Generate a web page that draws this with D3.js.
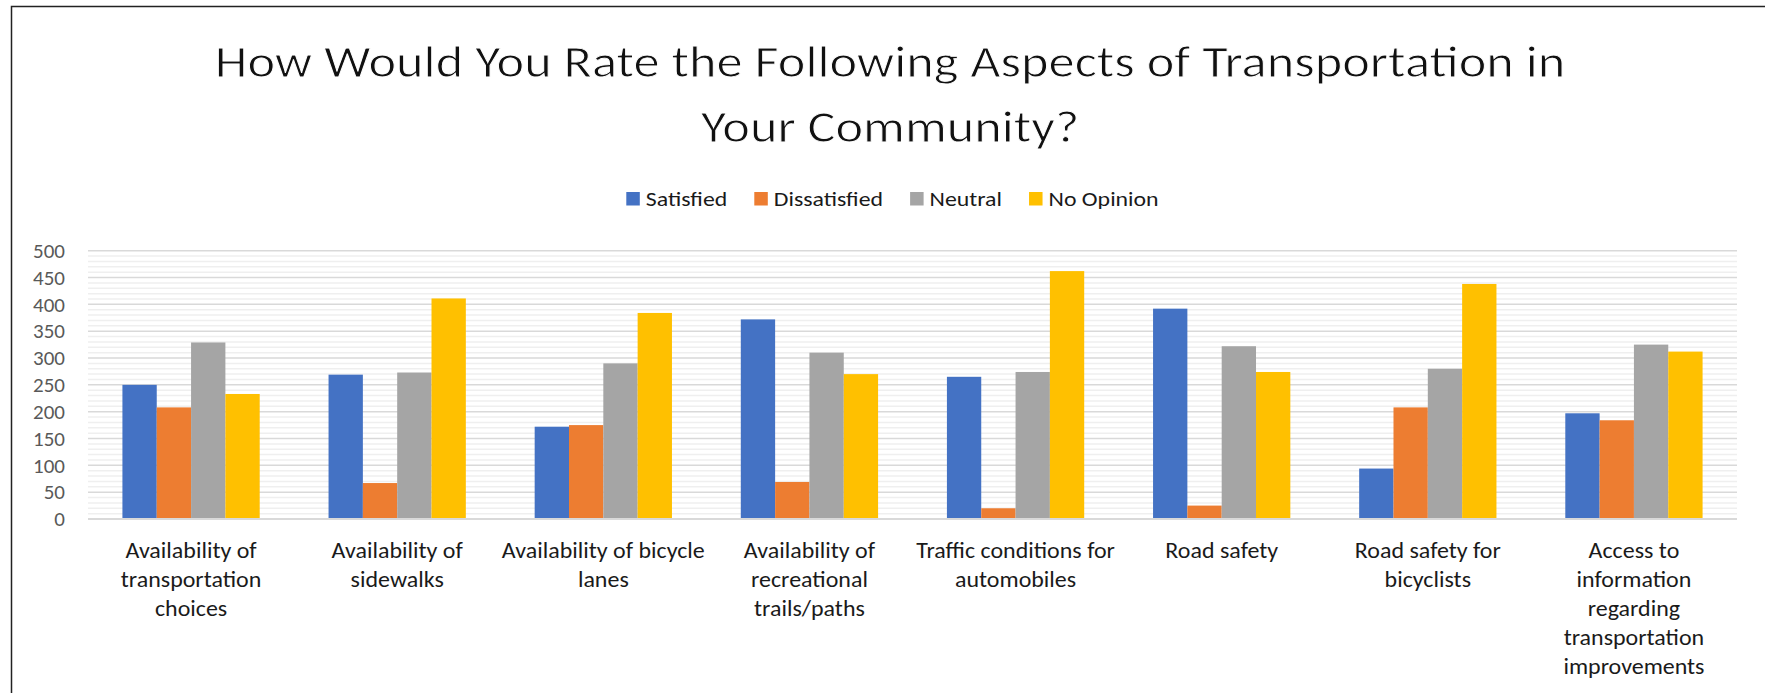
<!DOCTYPE html>
<html><head><meta charset="utf-8">
<script src="https://cdn.jsdelivr.net/npm/d3@7"></script>
<style>html,body{margin:0;padding:0;background:#fff;overflow:hidden;width:1765px;height:693px}svg{display:block}::-webkit-scrollbar{display:none}</style>
</head><body>
<svg id="chart" width="1765" height="693"></svg>
<script>
// ---------- data ----------
const categories = [
  "Availability of transportation choices",
  "Availability of sidewalks",
  "Availability of bicycle lanes",
  "Availability of recreational trails/paths",
  "Traffic conditions for automobiles",
  "Road safety",
  "Road safety for bicyclists",
  "Access to information regarding transportation improvements"
];
const categoryLines = [
  ["Availability of", "transportation", "choices"],
  ["Availability of", "sidewalks"],
  ["Availability of bicycle", "lanes"],
  ["Availability of", "recreational", "trails/paths"],
  ["Traffic conditions for", "automobiles"],
  ["Road safety"],
  ["Road safety for", "bicyclists"],
  ["Access to", "information", "regarding", "transportation", "improvements"]
];
const seriesNames = ["Satisfied", "Dissatisfied", "Neutral", "No Opinion"];
const satisfied    = [250, 269, 172, 372, 265, 392,  94, 197];
const dissatisfied = [208,  67, 175,  69,  20,  25, 208, 184];
const neutral      = [329, 273, 290, 310, 274, 322, 280, 325];
const noOpinion    = [233, 411, 384, 270, 462, 274, 438, 312];
const yTicks = [0, 50, 100, 150, 200, 250, 300, 350, 400, 450, 500];
const titleLines = ["How Would You Rate the Following Aspects of Transportation in", "Your Community?"];
const colors = ["#4472C4", "#ED7D31", "#A5A5A5", "#FFC000"];

const seriesValues = [satisfied, dissatisfied, neutral, noOpinion];
const rows = [];
categories.forEach((c, i) => seriesNames.forEach((s, j) => rows.push({cat: c, series: s, value: seriesValues[j][i], color: colors[j]})));

// ---------- layout ----------
const W = 1765, H = 693;
const FONT = "Carlito, Lato, 'Open Sans', sans-serif";
const svg = d3.select("#chart");
svg.append("rect").attr("width", W).attr("height", H).attr("fill", "#fff");

const plot = {left: 88, right: 1737, top: 250.7, bottom: 519};
const x = d3.scaleBand().domain(categories).range([plot.left, plot.right]).paddingInner(0.334).paddingOuter(0.167);
const xs = d3.scaleBand().domain(seriesNames).range([0, x.bandwidth()]);
const y = d3.scaleLinear().domain([0, 500]).range([plot.bottom, plot.top]);

// minor gridlines
const minor = y.ticks(50).filter(v => v % 50 !== 0);
svg.append("g").selectAll("line").data(minor).join("line")
  .attr("x1", plot.left).attr("x2", plot.right)
  .attr("y1", d => y(d)).attr("y2", d => y(d))
  .attr("stroke", "#efefef").attr("stroke-width", 1.5);
// major gridlines
svg.append("g").selectAll("line").data(yTicks.filter(v => v > 0)).join("line")
  .attr("x1", plot.left).attr("x2", plot.right)
  .attr("y1", d => y(d)).attr("y2", d => y(d))
  .attr("stroke", "#d9d9d9").attr("stroke-width", 1.5);

// bars
svg.append("g").selectAll("rect").data(rows).join("rect")
  .attr("x", d => x(d.cat) + xs(d.series))
  .attr("y", d => y(d.value))
  .attr("width", xs.bandwidth())
  .attr("height", d => y(0) - y(d.value))
  .attr("fill", d => d.color);

// baseline
svg.append("line").attr("x1", plot.left).attr("x2", plot.right)
  .attr("y1", y(0)).attr("y2", y(0)).attr("stroke", "#d9d9d9").attr("stroke-width", 2);

// y axis labels
const yAxis = svg.append("g").attr("transform", "translate(65,0)")
  .call(d3.axisLeft(y).tickValues(yTicks).tickSize(0).tickPadding(0));
yAxis.select(".domain").remove();
yAxis.selectAll("text").attr("font-family", FONT).attr("font-size", 21).attr("fill", "#595959");

// helper: horizontal condense to mimic Calibri widths
function ratioFor(str, size, weight, target) {
  const t = svg.append("text").attr("font-family", FONT).attr("font-size", size).attr("font-weight", weight).text(str);
  const w = t.node().getComputedTextLength();
  t.remove();
  return target / w;
}

// x labels
const xr = ratioFor("Availability of bicycle", 22, 400, 203);
const xg = svg.append("g").selectAll("g").data(categories).join("g")
  .attr("transform", d => `translate(${x(d) + x.bandwidth() / 2},0) scale(${xr},1)`);
xg.append("text").attr("font-family", FONT).attr("font-size", 22).attr("fill", "#1a1a1a")
  .attr("text-anchor", "middle")
  .selectAll("tspan").data((d, i) => categoryLines[i]).join("tspan")
  .attr("x", 0).attr("y", (d, i) => 558 + i * 29).text(d => d);

// title
const tr = ratioFor(titleLines[0], 46, 300, 1351);
const tg = svg.append("g").attr("transform", `translate(890,0) scale(${tr},1)`);
tg.selectAll("text").data(titleLines).join("text")
  .attr("x", 0).attr("y", (d, i) => 77 + i * 65)
  .attr("text-anchor", "middle").attr("font-family", FONT).attr("font-size", 46).attr("font-weight", 300)
  .attr("fill", "#111").attr("stroke", "#fff").attr("stroke-width", 0.9)
  .text(d => d);

// legend
const lr = ratioFor("Satisfied", 20, 400, 81.5);
const widths = seriesNames.map(s => {
  const t = svg.append("text").attr("font-family", FONT).attr("font-size", 20).text(s);
  const w = t.node().getComputedTextLength() * lr; t.remove(); return w;
});
const sq = 13.5, gapT = 6, gapI = 27;
const total = d3.sum(widths) + seriesNames.length * (sq + gapT) + (seriesNames.length - 1) * gapI;
let lx = 892.5 - total / 2;
const lg = svg.append("g");
seriesNames.forEach((s, i) => {
  lg.append("rect").attr("x", lx).attr("y", 192).attr("width", sq).attr("height", sq).attr("fill", colors[i]);
  lg.append("text").attr("transform", `translate(${lx + sq + gapT},205.5) scale(${lr},1)`)
    .attr("font-family", FONT).attr("font-size", 20).attr("fill", "#1a1a1a").text(s);
  lx += sq + gapT + widths[i] + gapI;
});

// chart frame (left and top edges; the rest is cropped off)
svg.append("rect").attr("x", 1740).attr("y", 8).attr("width", 25).attr("height", H).attr("fill", "#fff");
svg.append("path").attr("d", `M11.5,${H}V6.5H${W}`)
  .attr("fill", "none").attr("stroke", "#222").attr("stroke-width", 1.5);
</script>
</body></html>
